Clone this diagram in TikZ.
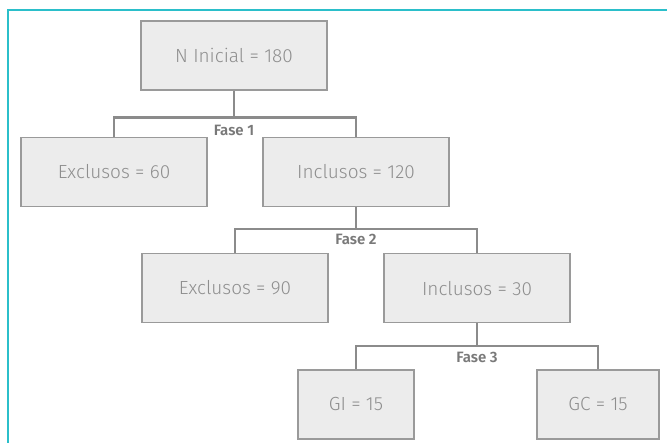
\documentclass[tikz,border=0pt]{standalone}
\usepackage{fontspec}
\setmainfont{Fira Sans}[UprightFont=* Light, BoldFont=* SemiBold]
\usetikzlibrary{positioning}
\definecolor{boxfill}{HTML}{ECECEC}
\definecolor{boxline}{HTML}{9A9A9A}
\definecolor{txtgrey}{HTML}{8E8E8E}
\definecolor{frameblue}{HTML}{2BBFCA}

\begin{document}
\begin{tikzpicture}[x=1pt,y=1pt,
  box/.style = {draw=boxline,line width=1.3pt,fill=boxfill,text=txtgrey,minimum width=186pt,minimum height=69pt,font=\fontsize{19}{22}\selectfont},
  link/.style = {draw=boxline!90!black,line width=2.4pt},
  fase/.style = {text=txtgrey!85!black,font=\bfseries\fontsize{15}{17}\selectfont,inner sep=1pt}]

\useasboundingbox (0,0) rectangle (667,-442);
\draw[frameblue,line width=1.6pt] (8,-450) -- (8,-10) -- (675,-10);

\node[box] (ni) at (234,-55.5) {N Inicial = 180};
\node[box] (exc1) [below=46pt of ni, xshift=-120pt] {Exclusos = 60};
\node[box] (inc1) [below=46pt of ni, xshift=122pt] {Inclusos = 120};
\node[box] (exc2) [below=46pt of inc1, xshift=-121pt] {Exclusos = 90};
\node[box] (inc2) [below=46pt of inc1, xshift=121pt] {Inclusos = 30};
\node[box,minimum width=116pt] (gi) [below=46pt of inc2, xshift=-121pt] {GI = 15};
\node[box,minimum width=122pt] (gc) [below=46pt of inc2, xshift=121pt] {GC = 15};

\coordinate (f1) at ([yshift=-27pt]ni.south);
\coordinate (f2) at ([yshift=-22pt]inc1.south);
\coordinate (f3) at ([yshift=-23pt]inc2.south);

\path[link] (ni.south) -- (f1);
\path[link] (exc1.north) |- (f1) -| (inc1.north);
\path[link] (inc1.south) -- (f2);
\path[link] (exc2.north) |- (f2) -| (inc2.north);
\path[link] (inc2.south) -- (f3);
\path[link] (gi.north) |- (f3) -| (gc.north);

\node[fase,below=6pt of f1] (fase1) {Fase 1};
\node[fase,below=4pt of f2] (fase2) {Fase 2};
\node[fase,below=5pt of f3] (fase3) {Fase 3};

\end{tikzpicture}
\end{document}
